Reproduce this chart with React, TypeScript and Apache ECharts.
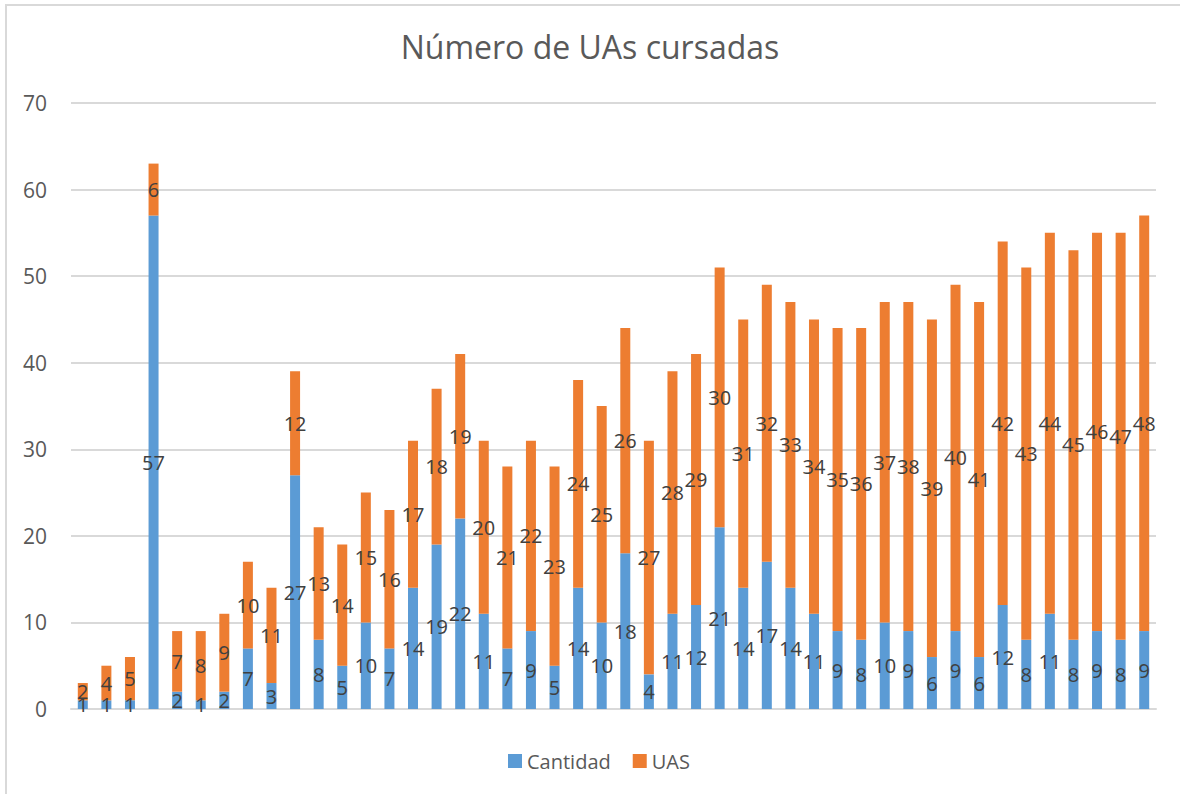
import React, { useEffect, useRef } from "react";
import * as echarts from "echarts";

const categories: string[] = Array.from({ length: 46 }, (_, i) => String(i + 1));

const cantidad: number[] = [
  1, 1, 1, 57, 2, 1, 2, 7, 3, 27,
  8, 5, 10, 7, 14, 19, 22, 11, 7, 9,
  5, 14, 10, 18, 4, 11, 12, 21, 14, 17,
  14, 11, 9, 8, 10, 9, 6, 9, 6, 12,
  8, 11, 8, 9, 8, 9,
];

const uas: number[] = [
  2, 4, 5, 6, 7, 8, 9, 10, 11, 12,
  13, 14, 15, 16, 17, 18, 19, 20, 21, 22,
  23, 24, 25, 26, 27, 28, 29, 30, 31, 32,
  33, 34, 35, 36, 37, 38, 39, 40, 41, 42,
  43, 44, 45, 46, 47, 48,
];

const FONT = "'Open Sans', 'Noto Sans', sans-serif";

export default function App() {
  const ref = useRef<HTMLDivElement>(null);

  useEffect(() => {
    document.body.style.margin = "0";
    if (!ref.current) return;
    const chart = echarts.init(ref.current, undefined, { renderer: "svg" });
    const label = {
      show: true,
      position: "inside" as const,
      color: "#404040",
      fontSize: 20,
      fontFamily: FONT,
    };
    chart.setOption({
      animation: false,
      backgroundColor: "#ffffff",
      title: {
        text: "Número de UAs cursadas",
        left: "center",
        top: 25,
        textStyle: { color: "#595959", fontSize: 32, fontWeight: "normal", fontFamily: FONT },
      },
      legend: {
        data: ["Cantidad", "UAS"],
        bottom: 18,
        left: 503,
        itemWidth: 14,
        itemHeight: 14,
        itemGap: 22,
        icon: "rect",
        textStyle: { color: "#595959", fontSize: 20, fontFamily: FONT },
      },
      grid: { left: 71, right: 24, top: 103, bottom: 85 },
      xAxis: {
        type: "category",
        data: categories,
        axisLine: { lineStyle: { color: "#d9d9d9", width: 2 } },
        axisTick: { show: false },
        axisLabel: { show: false },
      },
      yAxis: {
        type: "value",
        min: 0,
        max: 70,
        interval: 10,
        axisLine: { show: false },
        axisTick: { show: false },
        axisLabel: { color: "#595959", fontSize: 21, fontFamily: FONT, margin: 24 },
        splitLine: { lineStyle: { color: "#d9d9d9", width: 2 } },
      },
      graphic: [
        {
          type: "polyline",
          shape: { points: [[6, 800], [6, 5], [1190, 5]] },
          style: { stroke: "#d9d9d9", lineWidth: 2, fill: "none" },
          silent: true,
        },
      ],
      series: [
        {
          name: "Cantidad",
          type: "bar",
          stack: "total",
          data: cantidad,
          barWidth: 10,
          itemStyle: { color: "#5B9BD5" },
          label,
        },
        {
          name: "UAS",
          type: "bar",
          stack: "total",
          data: uas,
          barWidth: 10,
          itemStyle: { color: "#ED7D31" },
          label,
        },
      ],
    });
    return () => chart.dispose();
  }, []);

  return (
    <div
      ref={ref}
      style={{ position: "absolute", left: 0, top: 0, width: 1180, height: 794 }}
    />
  );
}
